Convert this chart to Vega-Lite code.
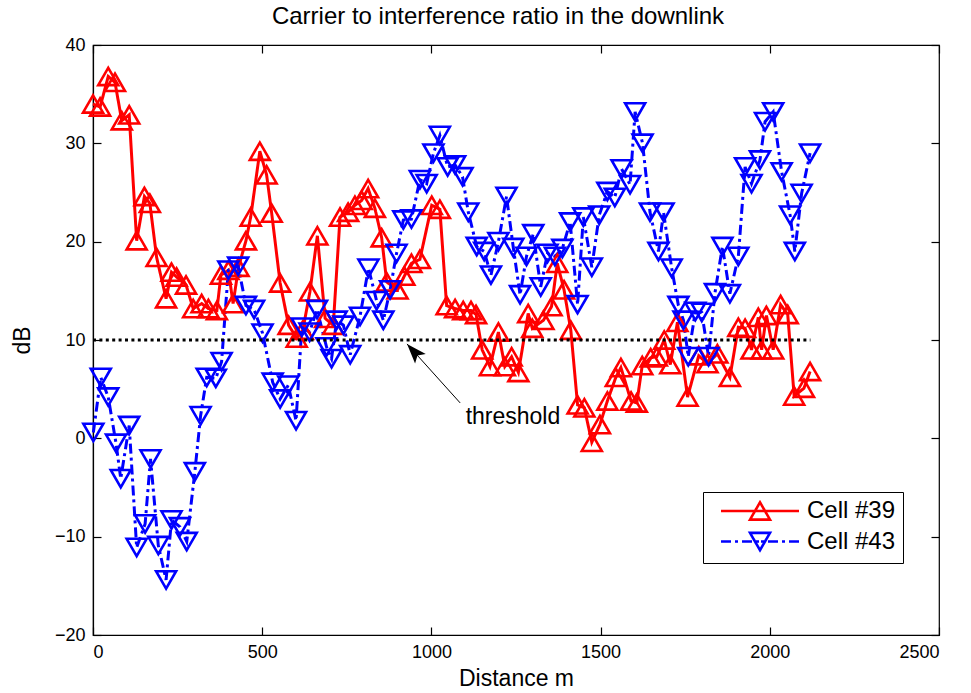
{
  "$schema": "https://vega.github.io/schema/vega-lite/v6.json",
  "width": 846,
  "height": 590,
  "autosize": {"type": "none"},
  "padding": {"left": 93, "top": 45, "right": 32, "bottom": 58},
  "background": "white",
  "title": {
    "text": "Carrier to interference ratio in the downlink",
    "font": "Liberation Sans",
    "fontSize": 24,
    "fontWeight": "normal",
    "color": "black",
    "anchor": "middle",
    "dx": -18,
    "offset": 7
  },
  "config": {
    "view": {"stroke": "black", "strokeWidth": 1.2},
    "axis": {
      "grid": false,
      "domainColor": "black",
      "domainWidth": 1.2,
      "tickColor": "black",
      "tickWidth": 1.2,
      "tickSize": -8,
      "labelPadding": 16,
      "labelFont": "Liberation Sans",
      "labelFontSize": 18,
      "labelColor": "black",
      "titleFont": "Liberation Sans",
      "titleFontSize": 23,
      "titleFontWeight": "normal",
      "titleColor": "black"
    }
  },
  "datasets": {
    "cir": [
      {"series": "Cell #39", "d": 0, "db": 34.0},
      {"series": "Cell #39", "d": 21, "db": 33.7},
      {"series": "Cell #39", "d": 45, "db": 36.8},
      {"series": "Cell #39", "d": 65, "db": 36.2},
      {"series": "Cell #39", "d": 85, "db": 32.3},
      {"series": "Cell #39", "d": 107, "db": 32.9},
      {"series": "Cell #39", "d": 129, "db": 20.1},
      {"series": "Cell #39", "d": 152, "db": 24.6},
      {"series": "Cell #39", "d": 168, "db": 23.9},
      {"series": "Cell #39", "d": 188, "db": 18.4},
      {"series": "Cell #39", "d": 216, "db": 14.2},
      {"series": "Cell #39", "d": 232, "db": 16.9},
      {"series": "Cell #39", "d": 247, "db": 16.4},
      {"series": "Cell #39", "d": 275, "db": 15.6},
      {"series": "Cell #39", "d": 296, "db": 13.2},
      {"series": "Cell #39", "d": 321, "db": 13.7},
      {"series": "Cell #39", "d": 341, "db": 13.2},
      {"series": "Cell #39", "d": 366, "db": 13.0},
      {"series": "Cell #39", "d": 378, "db": 16.6},
      {"series": "Cell #39", "d": 400, "db": 17.1},
      {"series": "Cell #39", "d": 414, "db": 13.7},
      {"series": "Cell #39", "d": 430, "db": 17.4},
      {"series": "Cell #39", "d": 452, "db": 20.1},
      {"series": "Cell #39", "d": 466, "db": 22.5},
      {"series": "Cell #39", "d": 493, "db": 29.2},
      {"series": "Cell #39", "d": 513, "db": 26.8},
      {"series": "Cell #39", "d": 528, "db": 22.9},
      {"series": "Cell #39", "d": 553, "db": 15.8},
      {"series": "Cell #39", "d": 578, "db": 11.5},
      {"series": "Cell #39", "d": 602, "db": 10.2},
      {"series": "Cell #39", "d": 620, "db": 11.0},
      {"series": "Cell #39", "d": 641, "db": 14.9},
      {"series": "Cell #39", "d": 663, "db": 20.6},
      {"series": "Cell #39", "d": 686, "db": 12.2},
      {"series": "Cell #39", "d": 710, "db": 11.5},
      {"series": "Cell #39", "d": 730, "db": 22.5},
      {"series": "Cell #39", "d": 754, "db": 23.0},
      {"series": "Cell #39", "d": 774, "db": 23.7},
      {"series": "Cell #39", "d": 794, "db": 24.2},
      {"series": "Cell #39", "d": 813, "db": 25.4},
      {"series": "Cell #39", "d": 833, "db": 23.4},
      {"series": "Cell #39", "d": 853, "db": 20.4},
      {"series": "Cell #39", "d": 868, "db": 15.9},
      {"series": "Cell #39", "d": 900, "db": 15.1},
      {"series": "Cell #39", "d": 920, "db": 16.5},
      {"series": "Cell #39", "d": 941, "db": 17.8},
      {"series": "Cell #39", "d": 966, "db": 18.2},
      {"series": "Cell #39", "d": 1001, "db": 23.7},
      {"series": "Cell #39", "d": 1025, "db": 23.3},
      {"series": "Cell #39", "d": 1045, "db": 13.5},
      {"series": "Cell #39", "d": 1070, "db": 13.2},
      {"series": "Cell #39", "d": 1094, "db": 13.0},
      {"series": "Cell #39", "d": 1117, "db": 13.0},
      {"series": "Cell #39", "d": 1132, "db": 12.6},
      {"series": "Cell #39", "d": 1150, "db": 9.0},
      {"series": "Cell #39", "d": 1173, "db": 7.3},
      {"series": "Cell #39", "d": 1198, "db": 10.8},
      {"series": "Cell #39", "d": 1217, "db": 7.3},
      {"series": "Cell #39", "d": 1237, "db": 8.3},
      {"series": "Cell #39", "d": 1257, "db": 6.7},
      {"series": "Cell #39", "d": 1286, "db": 12.7},
      {"series": "Cell #39", "d": 1298, "db": 11.2},
      {"series": "Cell #39", "d": 1331, "db": 12.0},
      {"series": "Cell #39", "d": 1355, "db": 13.4},
      {"series": "Cell #39", "d": 1372, "db": 17.8},
      {"series": "Cell #39", "d": 1392, "db": 15.1},
      {"series": "Cell #39", "d": 1412, "db": 11.0},
      {"series": "Cell #39", "d": 1432, "db": 3.4},
      {"series": "Cell #39", "d": 1452, "db": 3.1},
      {"series": "Cell #39", "d": 1474, "db": -0.4},
      {"series": "Cell #39", "d": 1498, "db": 1.4},
      {"series": "Cell #39", "d": 1520, "db": 3.8},
      {"series": "Cell #39", "d": 1545, "db": 6.2},
      {"series": "Cell #39", "d": 1560, "db": 7.2},
      {"series": "Cell #39", "d": 1590, "db": 3.8},
      {"series": "Cell #39", "d": 1607, "db": 3.6},
      {"series": "Cell #39", "d": 1623, "db": 7.4},
      {"series": "Cell #39", "d": 1648, "db": 8.2},
      {"series": "Cell #39", "d": 1666, "db": 8.3},
      {"series": "Cell #39", "d": 1688, "db": 10.0},
      {"series": "Cell #39", "d": 1706, "db": 7.5},
      {"series": "Cell #39", "d": 1727, "db": 11.8},
      {"series": "Cell #39", "d": 1757, "db": 4.2},
      {"series": "Cell #39", "d": 1790, "db": 8.4},
      {"series": "Cell #39", "d": 1816, "db": 7.6},
      {"series": "Cell #39", "d": 1845, "db": 8.6},
      {"series": "Cell #39", "d": 1882, "db": 6.2},
      {"series": "Cell #39", "d": 1907, "db": 11.3},
      {"series": "Cell #39", "d": 1927, "db": 11.2},
      {"series": "Cell #39", "d": 1946, "db": 9.0},
      {"series": "Cell #39", "d": 1966, "db": 12.3},
      {"series": "Cell #39", "d": 1976, "db": 9.0},
      {"series": "Cell #39", "d": 1990, "db": 12.5},
      {"series": "Cell #39", "d": 2010, "db": 9.0},
      {"series": "Cell #39", "d": 2032, "db": 13.6},
      {"series": "Cell #39", "d": 2053, "db": 12.6},
      {"series": "Cell #39", "d": 2072, "db": 4.3},
      {"series": "Cell #39", "d": 2101, "db": 5.1},
      {"series": "Cell #39", "d": 2119, "db": 6.8},
      {"series": "Cell #43", "d": 1, "db": 0.6},
      {"series": "Cell #43", "d": 23, "db": 6.2},
      {"series": "Cell #43", "d": 45, "db": 4.2},
      {"series": "Cell #43", "d": 68, "db": -0.5},
      {"series": "Cell #43", "d": 82, "db": -4.1},
      {"series": "Cell #43", "d": 107, "db": 1.3},
      {"series": "Cell #43", "d": 129, "db": -11.1},
      {"series": "Cell #43", "d": 154, "db": -8.7},
      {"series": "Cell #43", "d": 170, "db": -2.1},
      {"series": "Cell #43", "d": 193, "db": -10.9},
      {"series": "Cell #43", "d": 216, "db": -14.4},
      {"series": "Cell #43", "d": 232, "db": -8.3},
      {"series": "Cell #43", "d": 257, "db": -9.0},
      {"series": "Cell #43", "d": 277, "db": -10.5},
      {"series": "Cell #43", "d": 301, "db": -3.4},
      {"series": "Cell #43", "d": 318, "db": 2.3},
      {"series": "Cell #43", "d": 336, "db": 6.2},
      {"series": "Cell #43", "d": 363, "db": 6.1},
      {"series": "Cell #43", "d": 380, "db": 7.8},
      {"series": "Cell #43", "d": 400, "db": 17.1},
      {"series": "Cell #43", "d": 429, "db": 17.5},
      {"series": "Cell #43", "d": 452, "db": 13.5},
      {"series": "Cell #43", "d": 476, "db": 13.1},
      {"series": "Cell #43", "d": 501, "db": 10.7},
      {"series": "Cell #43", "d": 531, "db": 5.7},
      {"series": "Cell #43", "d": 553, "db": 4.0},
      {"series": "Cell #43", "d": 577, "db": 5.4},
      {"series": "Cell #43", "d": 600, "db": 1.8},
      {"series": "Cell #43", "d": 617, "db": 11.3},
      {"series": "Cell #43", "d": 640, "db": 10.8},
      {"series": "Cell #43", "d": 662, "db": 13.1},
      {"series": "Cell #43", "d": 690, "db": 9.3},
      {"series": "Cell #43", "d": 705, "db": 8.1},
      {"series": "Cell #43", "d": 720, "db": 12.0},
      {"series": "Cell #43", "d": 740, "db": 11.5},
      {"series": "Cell #43", "d": 760, "db": 8.5},
      {"series": "Cell #43", "d": 789, "db": 12.4},
      {"series": "Cell #43", "d": 814, "db": 17.3},
      {"series": "Cell #43", "d": 838, "db": 14.0},
      {"series": "Cell #43", "d": 858, "db": 12.0},
      {"series": "Cell #43", "d": 878, "db": 15.1},
      {"series": "Cell #43", "d": 897, "db": 18.8},
      {"series": "Cell #43", "d": 917, "db": 22.2},
      {"series": "Cell #43", "d": 941, "db": 22.3},
      {"series": "Cell #43", "d": 966, "db": 26.3},
      {"series": "Cell #43", "d": 986, "db": 25.9},
      {"series": "Cell #43", "d": 1006, "db": 29.0},
      {"series": "Cell #43", "d": 1025, "db": 30.8},
      {"series": "Cell #43", "d": 1048, "db": 27.6},
      {"series": "Cell #43", "d": 1070, "db": 27.8},
      {"series": "Cell #43", "d": 1092, "db": 26.6},
      {"series": "Cell #43", "d": 1109, "db": 23.0},
      {"series": "Cell #43", "d": 1134, "db": 19.5},
      {"series": "Cell #43", "d": 1156, "db": 19.0},
      {"series": "Cell #43", "d": 1176, "db": 16.6},
      {"series": "Cell #43", "d": 1198, "db": 20.0},
      {"series": "Cell #43", "d": 1222, "db": 24.6},
      {"series": "Cell #43", "d": 1242, "db": 19.4},
      {"series": "Cell #43", "d": 1262, "db": 14.6},
      {"series": "Cell #43", "d": 1281, "db": 18.5},
      {"series": "Cell #43", "d": 1301, "db": 20.8},
      {"series": "Cell #43", "d": 1323, "db": 15.4},
      {"series": "Cell #43", "d": 1343, "db": 18.8},
      {"series": "Cell #43", "d": 1365, "db": 18.5},
      {"series": "Cell #43", "d": 1387, "db": 19.3},
      {"series": "Cell #43", "d": 1410, "db": 22.0},
      {"series": "Cell #43", "d": 1432, "db": 13.6},
      {"series": "Cell #43", "d": 1449, "db": 22.5},
      {"series": "Cell #43", "d": 1474, "db": 17.4},
      {"series": "Cell #43", "d": 1496, "db": 22.7},
      {"series": "Cell #43", "d": 1520, "db": 25.1},
      {"series": "Cell #43", "d": 1542, "db": 24.5},
      {"series": "Cell #43", "d": 1562, "db": 27.4},
      {"series": "Cell #43", "d": 1587, "db": 25.8},
      {"series": "Cell #43", "d": 1602, "db": 33.2},
      {"series": "Cell #43", "d": 1624, "db": 30.0},
      {"series": "Cell #43", "d": 1646, "db": 23.0},
      {"series": "Cell #43", "d": 1671, "db": 19.0},
      {"series": "Cell #43", "d": 1686, "db": 23.0},
      {"series": "Cell #43", "d": 1710, "db": 17.3},
      {"series": "Cell #43", "d": 1730, "db": 13.5},
      {"series": "Cell #43", "d": 1745, "db": 12.0},
      {"series": "Cell #43", "d": 1759, "db": 8.3},
      {"series": "Cell #43", "d": 1780, "db": 12.9},
      {"series": "Cell #43", "d": 1799, "db": 12.8},
      {"series": "Cell #43", "d": 1819, "db": 8.3},
      {"series": "Cell #43", "d": 1838, "db": 14.8},
      {"series": "Cell #43", "d": 1860, "db": 19.5},
      {"series": "Cell #43", "d": 1882, "db": 14.7},
      {"series": "Cell #43", "d": 1907, "db": 18.5},
      {"series": "Cell #43", "d": 1927, "db": 27.6},
      {"series": "Cell #43", "d": 1946, "db": 25.9},
      {"series": "Cell #43", "d": 1971, "db": 28.3},
      {"series": "Cell #43", "d": 1986, "db": 32.2},
      {"series": "Cell #43", "d": 2010, "db": 33.2},
      {"series": "Cell #43", "d": 2035, "db": 27.1},
      {"series": "Cell #43", "d": 2060, "db": 22.7},
      {"series": "Cell #43", "d": 2074, "db": 19.0},
      {"series": "Cell #43", "d": 2094, "db": 24.9},
      {"series": "Cell #43", "d": 2119, "db": 29.0}
    ],
    "threshold": [
      {"from": 0, "to": 2120, "level": 10}
    ],
    "note": [
      {"label": "threshold", "textD": 1241, "textDb": 2.2, "tailD": 1085, "tailDb": 3.6, "tipD": 928, "tipDb": 9.6}
    ]
  },
  "data": {"name": "cir"},
  "resolve": {"axis": {"x": "independent", "y": "independent"}},
  "layer": [
    {
      "mark": {"type": "line", "strokeWidth": 3},
      "encoding": {
        "x": {
          "field": "d", "type": "quantitative",
          "scale": {"domain": [0, 2500], "nice": false, "zero": false},
          "axis": {"orient": "bottom", "values": [0, 500, 1000, 1500, 2000, 2500], "format": "d", "title": "Distance m", "titlePadding": 6}
        },
        "y": {
          "field": "db", "type": "quantitative",
          "scale": {"domain": [-20, 40], "nice": false, "zero": false},
          "axis": {"orient": "left", "values": [-20, -10, 0, 10, 20, 30, 40], "format": "d", "title": "dB", "titlePadding": 20}
        },
        "color": {
          "field": "series", "type": "nominal",
          "scale": {"domain": ["Cell #39", "Cell #43"], "range": ["#ff0000", "#0000ff"]},
          "legend": {
            "orient": "none",
            "legendX": 610,
            "legendY": 447,
            "title": null,
            "symbolSize": 400,
            "symbolStrokeWidth": 2.6,
            "symbolOffset": 38,
            "labelOffset": 35,
            "labelFont": "Liberation Sans",
            "labelFontSize": 24,
            "labelColor": "black",
            "padding": 7,
            "rowPadding": 2.5,
            "strokeColor": "black",
            "fillColor": "white",
            "encoding": {
              "symbols": {
                "shape": {"value": {"expr": "datum.value === 'Cell #39' ? 'M-3.9,0L3.9,0M0,-0.866L-1,0.866L1,0.866Z' : 'M-3.9,0L-2.9,0M-2.5,0L-2.2,0M-1.8,0L-0.8,0M-0.4,0L-0.1,0M0.1,0L0.4,0M0.8,0L1.8,0M2.2,0L2.5,0M2.9,0L3.9,0M0,0.866L-1,-0.866L1,-0.866Z'"}},
                "fill": {"value": "transparent"},
                "strokeDash": {"value": [1, 0]},
                "opacity": {"value": 1}
              }
            }
          }
        },
        "strokeDash": {
          "field": "series", "type": "nominal",
          "scale": {"domain": ["Cell #43", "Cell #39"], "range": [[10, 4, 3, 4], [1, 0]]},
          "legend": null
        },
        "order": {"field": "d", "type": "quantitative"}
      }
    },
    {
      "mark": {"type": "point", "size": 400, "strokeWidth": 2.6, "filled": false, "opacity": 1},
      "encoding": {
        "x": {"field": "d", "type": "quantitative", "axis": {"orient": "top", "values": [0, 500, 1000, 1500, 2000, 2500], "labels": false, "title": null, "domain": false}},
        "y": {"field": "db", "type": "quantitative", "axis": {"orient": "right", "values": [-20, -10, 0, 10, 20, 30, 40], "labels": false, "title": null, "domain": false}},
        "color": {"field": "series", "type": "nominal"},
        "shape": {
          "field": "series", "type": "nominal",
          "scale": {"domain": ["Cell #43", "Cell #39"], "range": ["triangle-down", "triangle-up"]},
          "legend": null
        }
      }
    },
    {
      "data": {"name": "threshold"},
      "mark": {"type": "rule", "color": "black", "strokeWidth": 3, "strokeDash": [3, 3.4]},
      "encoding": {
        "x": {"field": "from", "type": "quantitative", "axis": null},
        "x2": {"field": "to"},
        "y": {"field": "level", "type": "quantitative", "axis": null}
      }
    },
    {
      "data": {"name": "note"},
      "mark": {"type": "rule", "color": "black", "strokeWidth": 1},
      "encoding": {
        "x": {"field": "tailD", "type": "quantitative", "axis": null},
        "y": {"field": "tailDb", "type": "quantitative", "axis": null},
        "x2": {"field": "tipD"},
        "y2": {"field": "tipDb"}
      }
    },
    {
      "data": {"name": "note"},
      "mark": {"type": "point", "shape": "M0,0 L0.36,1 L0,0.78 L-0.36,1 Z", "size": 1600, "filled": true, "color": "black", "opacity": 1, "strokeWidth": 0, "angle": 318},
      "encoding": {
        "x": {"field": "tipD", "type": "quantitative", "axis": null},
        "y": {"field": "tipDb", "type": "quantitative", "axis": null}
      }
    },
    {
      "data": {"name": "note"},
      "mark": {"type": "text", "font": "Liberation Sans", "fontSize": 23, "color": "black", "align": "center", "baseline": "middle"},
      "encoding": {
        "x": {"field": "textD", "type": "quantitative", "axis": null},
        "y": {"field": "textDb", "type": "quantitative", "axis": null},
        "text": {"field": "label"}
      }
    }
  ]
}
